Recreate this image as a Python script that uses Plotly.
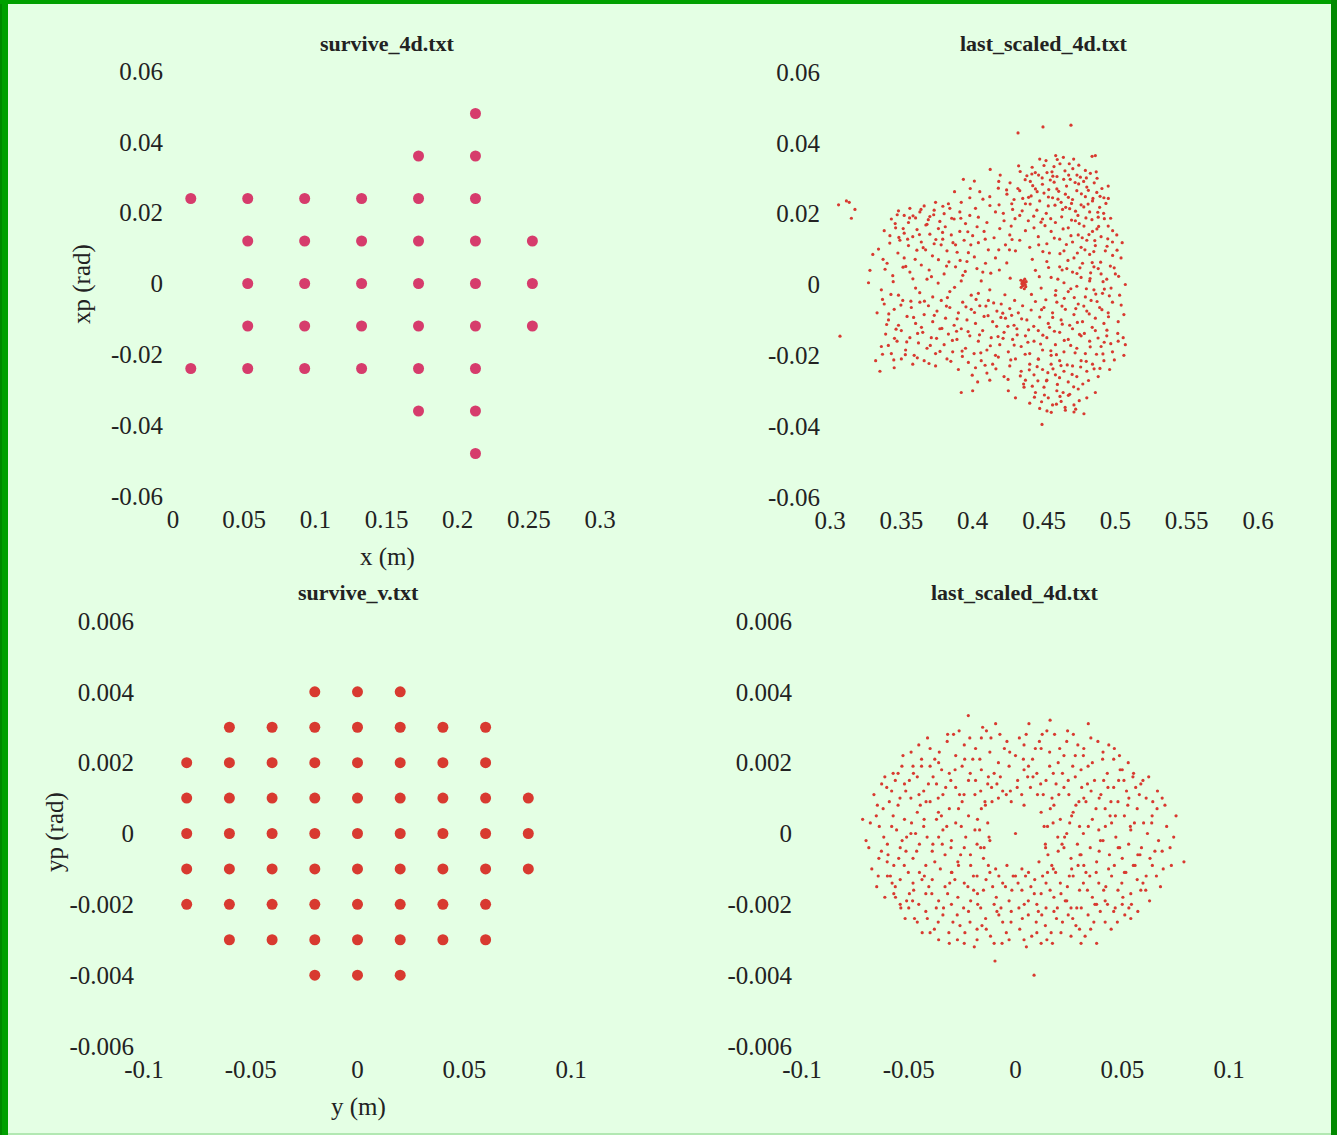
import plotly.graph_objects as go

# ---------------- data ----------------
# survive_4d.txt  (x [m], xp [rad])
s4_x = [0.0125, 0.0125,
        0.0525, 0.0525, 0.0525, 0.0525, 0.0525,
        0.0925, 0.0925, 0.0925, 0.0925, 0.0925,
        0.1325, 0.1325, 0.1325, 0.1325, 0.1325,
        0.1725, 0.1725, 0.1725, 0.1725, 0.1725, 0.1725, 0.1725,
        0.2125, 0.2125, 0.2125, 0.2125, 0.2125, 0.2125, 0.2125, 0.2125, 0.2125,
        0.2525, 0.2525, 0.2525]
s4_xp = [0.024, -0.024,
         0.024, 0.012, 0.0, -0.012, -0.024,
         0.024, 0.012, 0.0, -0.012, -0.024,
         0.024, 0.012, 0.0, -0.012, -0.024,
         0.036, 0.024, 0.012, 0.0, -0.012, -0.024, -0.036,
         0.048, 0.036, 0.024, 0.012, 0.0, -0.012, -0.024, -0.036, -0.048,
         0.012, 0.0, -0.012]

# survive_v.txt  (y [m], yp [rad])
sv_y = [-0.02, 0.0, 0.02,
        -0.06, -0.04, -0.02, 0.0, 0.02, 0.04, 0.06,
        -0.08, -0.06, -0.04, -0.02, 0.0, 0.02, 0.04, 0.06,
        -0.08, -0.06, -0.04, -0.02, 0.0, 0.02, 0.04, 0.06, 0.08,
        -0.08, -0.06, -0.04, -0.02, 0.0, 0.02, 0.04, 0.06, 0.08,
        -0.08, -0.06, -0.04, -0.02, 0.0, 0.02, 0.04, 0.06, 0.08,
        -0.08, -0.06, -0.04, -0.02, 0.0, 0.02, 0.04, 0.06,
        -0.06, -0.04, -0.02, 0.0, 0.02, 0.04, 0.06,
        -0.02, 0.0, 0.02]
sv_yp = [0.004] * 3 + [0.003] * 7 + [0.002] * 8 + [0.001] * 9 + [0.0] * 9 + \
        [-0.001] * 9 + [-0.002] * 8 + [-0.003] * 7 + [-0.004] * 3

# last_scaled_4d.txt, horizontal plane (x [m], xp [rad])
lh_pts = [
    (0.447, 0.0354), (0.4514, 0.035), (0.4582, 0.0364), (0.4636, 0.0359), (0.4708, 0.0354), (0.486, 0.0364),
    (0.457, 0.0333), (0.450, 0.0336), (0.4123, 0.0325), (0.4193, 0.0309), (0.4322, 0.0335), (0.4333, 0.0319),
    (0.438, 0.0307), (0.4415, 0.0312), (0.4439, 0.0316), (0.4462, 0.0309), (0.4521, 0.0316), (0.4544, 0.0295),
    (0.4591, 0.0305), (0.4638, 0.0297), (0.4673, 0.0309), (0.4684, 0.0297), (0.4731, 0.0309), (0.4755, 0.0303),
    (0.4778, 0.0291), (0.4825, 0.0314), (0.4872, 0.030), (0.479, 0.0322), (0.4404, 0.0291), (0.3935, 0.0297),
    (0.4318, 0.0428), (0.4493, 0.0445), (0.4689, 0.045), (0.4837, 0.0362),
    (0.405, 0.0262), (0.412, 0.0248), (0.418, 0.0272), (0.424, 0.0255), (0.429, 0.0240), (0.433, 0.0265),
    (0.437, 0.0228), (0.441, 0.0250), (0.444, 0.0270), (0.447, 0.0236), (0.450, 0.0258), (0.453, 0.0222),
    (0.456, 0.0245), (0.459, 0.0270), (0.462, 0.0232), (0.465, 0.0255), (0.468, 0.0214), (0.470, 0.0240),
    (0.473, 0.0265), (0.476, 0.0225), (0.479, 0.0248), (0.482, 0.0205), (0.484, 0.0236), (0.487, 0.0260),
    (0.489, 0.0218), (0.492, 0.0245), (0.495, 0.0278), (0.480, 0.0275), (0.463, 0.0212), (0.445, 0.0210),
    (0.428, 0.0212), (0.4185, 0.0225), (0.398, 0.0245), (0.392, 0.0232), (0.402, 0.0215),
    (0.348, 0.0208), (0.352, 0.0195), (0.356, 0.0215), (0.360, 0.0188), (0.363, 0.0205), (0.366, 0.0222),
    (0.370, 0.0192), (0.373, 0.0210), (0.377, 0.0178), (0.380, 0.0200), (0.384, 0.0215), (0.387, 0.0185),
    (0.391, 0.0205), (0.395, 0.0172), (0.398, 0.0195), (0.355, 0.0175), (0.368, 0.0170), (0.343, 0.0185),
    (0.383, 0.0228), (0.374, 0.0232),
    (0.306, 0.0225), (0.3115, 0.0236), (0.3135, 0.0232), (0.3175, 0.0212), (0.3150, 0.0187), (0.3070, -0.0146),
    (0.404, 0.0190), (0.410, 0.0175), (0.416, 0.0205), (0.422, 0.0180), (0.427, 0.0165), (0.433, 0.0195),
    (0.439, 0.0180),
    (0.338, 0.0152), (0.342, 0.0138), (0.346, 0.0160), (0.349, 0.0125), (0.352, 0.0145), (0.355, 0.0110),
    (0.358, 0.0135), (0.361, 0.0155), (0.364, 0.0120), (0.367, 0.0098), (0.370, 0.0142), (0.373, 0.0115),
    (0.376, 0.0158), (0.379, 0.0128), (0.382, 0.0095), (0.385, 0.0140), (0.388, 0.0112), (0.391, 0.0150),
    (0.394, 0.0125), (0.397, 0.0090), (0.400, 0.0138), (0.334, 0.0100), (0.330, 0.0085),
    (0.404, 0.0118), (0.408, 0.0150), (0.411, 0.0098), (0.415, 0.0132), (0.419, 0.0158), (0.423, 0.0112),
    (0.426, 0.0140), (0.430, 0.0095), (0.433, 0.0125), (0.437, 0.0152), (0.440, 0.0105),
    (0.443, 0.0160), (0.446, 0.0135), (0.449, 0.0185), (0.452, 0.0115), (0.455, 0.0150), (0.458, 0.0175),
    (0.461, 0.0128), (0.464, 0.0095), (0.467, 0.0160), (0.470, 0.0120), (0.472, 0.0180), (0.474, 0.0140),
    (0.476, 0.0105), (0.478, 0.0165), (0.480, 0.0125), (0.482, 0.0085), (0.484, 0.0150), (0.486, 0.0110),
    (0.488, 0.0190), (0.490, 0.0135), (0.493, 0.0095), (0.495, 0.0165), (0.498, 0.0120), (0.501, 0.0140),
    (0.504, 0.0075), (0.471, 0.0075), (0.477, 0.0060), (0.466, 0.0045), (0.485, 0.0050), (0.490, 0.0030),
    (0.328, 0.0040), (0.327, 0.0005), (0.336, -0.0015), (0.340, 0.0060), (0.344, 0.0025), (0.348, -0.0030),
    (0.352, 0.0075), (0.356, 0.0035), (0.360, -0.0010), (0.364, 0.0055), (0.368, 0.0015), (0.372, -0.0035),
    (0.376, 0.0070), (0.380, 0.0030), (0.384, -0.0020), (0.388, 0.0050), (0.392, 0.0010), (0.396, 0.0065),
    (0.399, -0.0030),
    (0.403, 0.0045), (0.406, 0.0010), (0.409, 0.0060), (0.404, -0.0025), (0.412, -0.0015), (0.416, 0.0075),
    (0.4345, 0.0002), (0.4352, -0.0003), (0.4360, 0.0004), (0.4368, 0.0000), (0.4356, 0.0010), (0.4340, -0.0008),
    (0.4372, -0.0006), (0.4362, -0.0012), (0.4348, 0.0006), (0.4375, 0.0008), (0.4338, 0.0012), (0.4365, 0.0015),
    (0.444, 0.0040), (0.448, -0.0010), (0.452, 0.0065), (0.455, 0.0020), (0.458, -0.0030), (0.461, 0.0050),
    (0.464, 0.0005), (0.467, -0.0020), (0.470, 0.0035), (0.473, -0.0005), (0.476, 0.0020), (0.479, -0.0035),
    (0.482, 0.0010), (0.485, -0.0015), (0.488, 0.0045), (0.491, -0.0025), (0.494, 0.0015), (0.497, -0.0010),
    (0.500, 0.0030), (0.503, -0.0030), (0.507, 0.0000),
    (0.333, -0.0080), (0.338, -0.0055), (0.341, -0.0100), (0.345, -0.0070), (0.348, -0.0115), (0.351, -0.0045),
    (0.354, -0.0090), (0.357, -0.0065), (0.360, -0.0110), (0.363, -0.0050), (0.366, -0.0085), (0.369, -0.0060),
    (0.372, -0.0105), (0.375, -0.0075), (0.378, -0.0045), (0.381, -0.0095), (0.384, -0.0065), (0.387, -0.0115),
    (0.390, -0.0080), (0.393, -0.0050), (0.396, -0.0100), (0.399, -0.0070),
    (0.402, -0.0110), (0.405, -0.0060), (0.408, -0.0090), (0.411, -0.0045), (0.414, -0.0105), (0.417, -0.0075),
    (0.420, -0.0055), (0.423, -0.0095), (0.426, -0.0068), (0.429, -0.0115), (0.432, -0.0080), (0.435, -0.0060),
    (0.438, -0.0100), (0.441, -0.0072), (0.444, -0.0048), (0.447, -0.0092),
    (0.450, -0.0065), (0.453, -0.0110), (0.456, -0.0080), (0.459, -0.0050), (0.462, -0.0100), (0.465, -0.0070),
    (0.468, -0.0115), (0.471, -0.0085), (0.474, -0.0055), (0.477, -0.0105), (0.480, -0.0075), (0.483, -0.0045),
    (0.486, -0.0095), (0.489, -0.0065), (0.492, -0.0110), (0.495, -0.0080), (0.498, -0.0050), (0.502, -0.0105),
    (0.506, -0.0085),
    (0.336, -0.0175), (0.339, -0.0140), (0.343, -0.0195), (0.347, -0.0160), (0.350, -0.0130), (0.353, -0.0185),
    (0.356, -0.0150), (0.359, -0.0200), (0.362, -0.0165), (0.365, -0.0135), (0.368, -0.0180), (0.371, -0.0150),
    (0.374, -0.0195), (0.377, -0.0125), (0.380, -0.0170), (0.383, -0.0140), (0.386, -0.0190), (0.389, -0.0155),
    (0.392, -0.0125), (0.395, -0.0180), (0.398, -0.0145),
    (0.401, -0.0195), (0.404, -0.0160), (0.407, -0.0130), (0.410, -0.0185), (0.413, -0.0150), (0.416, -0.0200),
    (0.419, -0.0170), (0.422, -0.0135), (0.425, -0.0190), (0.428, -0.0155), (0.431, -0.0125), (0.434, -0.0175),
    (0.437, -0.0145), (0.440, -0.0195), (0.443, -0.0160), (0.446, -0.0130), (0.449, -0.0185), (0.452, -0.0150),
    (0.455, -0.0200), (0.458, -0.0170), (0.461, -0.0135), (0.464, -0.0190), (0.467, -0.0155), (0.470, -0.0125),
    (0.473, -0.0180), (0.476, -0.0145), (0.479, -0.0195), (0.482, -0.0160), (0.486, -0.0130), (0.490, -0.0175),
    (0.494, -0.0145), (0.498, -0.0190), (0.502, -0.0160), (0.507, -0.0170), (0.506, -0.0200), (0.5055, -0.0150),
    (0.332, -0.0215), (0.335, -0.0245), (0.345, -0.0235), (0.350, -0.0210), (0.358, -0.0225), (0.366, -0.0215),
    (0.374, -0.0230), (0.382, -0.0210), (0.390, -0.0240), (0.397, -0.0220),
    (0.402, -0.0235), (0.406, -0.0215), (0.410, -0.0250), (0.414, -0.0225), (0.418, -0.0205), (0.422, -0.0260),
    (0.426, -0.0230), (0.430, -0.0210), (0.434, -0.0245), (0.437, -0.0270), (0.440, -0.0225), (0.443, -0.0255),
    (0.446, -0.0210), (0.449, -0.0240), (0.452, -0.0270), (0.455, -0.0225), (0.458, -0.0255), (0.461, -0.0215),
    (0.464, -0.0245), (0.467, -0.0275), (0.470, -0.0230), (0.473, -0.0260), (0.476, -0.0215), (0.480, -0.0245),
    (0.484, -0.0225), (0.488, -0.0260), (0.492, -0.0215), (0.496, -0.0240), (0.4035, -0.0275), (0.412, -0.0270),
    (0.392, -0.0305), (0.400, -0.0300), (0.425, -0.0300), (0.430, -0.0320), (0.436, -0.0290), (0.440, -0.0335),
    (0.444, -0.0305), (0.447, -0.0350), (0.450, -0.0290), (0.453, -0.0320), (0.456, -0.0340), (0.459, -0.0300),
    (0.462, -0.0330), (0.465, -0.0355), (0.468, -0.0310), (0.471, -0.0340), (0.474, -0.0295), (0.478, -0.0365),
    (0.480, -0.0320), (0.486, -0.0305), (0.4486, -0.0395), (0.471, -0.0360),
    # second, finer reading of the same cloud
    (0.4262, 0.0287), (0.4317, 0.0271), (0.4368, 0.0296), (0.4421, 0.0279), (0.4487, 0.0301), (0.4533, 0.0268),
    (0.4571, 0.0289), (0.4612, 0.0341), (0.4658, 0.0278), (0.4702, 0.0327), (0.4743, 0.0284), (0.4811, 0.0266),
    (0.4852, 0.0287), (0.4893, 0.0249), (0.4934, 0.0229), (0.4417, 0.0331), (0.4556, 0.0318), (0.4677, 0.0341),
    (0.4744, 0.0337), (0.4593, 0.0353),
    (0.4215, 0.0201), (0.4274, 0.0228), (0.4347, 0.0208), (0.4392, 0.0246), (0.4428, 0.0193), (0.4516, 0.0201),
    (0.4577, 0.0224), (0.4624, 0.0191), (0.4693, 0.0229), (0.4738, 0.0195), (0.4779, 0.0219), (0.4836, 0.0183),
    (0.4918, 0.0201), (0.4967, 0.0187), (0.4981, 0.0152), (0.4883, 0.0164), (0.4815, 0.0141), (0.4747, 0.0172),
    (0.4689, 0.0138), (0.4634, 0.0157), (0.4572, 0.0131), (0.4507, 0.0166), (0.4463, 0.0112), (0.4787, 0.0098),
    (0.4856, 0.0124), (0.4942, 0.0108), (0.5012, 0.0097), (0.4965, 0.0052), (0.4827, 0.0033), (0.4734, 0.0089),
    (0.3457, 0.0172), (0.3513, 0.0158), (0.3582, 0.0194), (0.3627, 0.0141), (0.3689, 0.0183), (0.3742, 0.0127),
    (0.3808, 0.0163), (0.3862, 0.0118), (0.3917, 0.0187), (0.3966, 0.0149), (0.4031, 0.0163), (0.4088, 0.0128),
    (0.3419, 0.0117), (0.3476, 0.0089), (0.3544, 0.0128), (0.3597, 0.0071), (0.3653, 0.0104), (0.3718, 0.0081),
    (0.3779, 0.0112), (0.3834, 0.0064), (0.3891, 0.0091), (0.3948, 0.0037), (0.4012, 0.0078), (0.4071, 0.0035),
    (0.3386, 0.0043), (0.3443, 0.0008), (0.3512, 0.0049), (0.3581, 0.0016), (0.3629, -0.0023), (0.3695, 0.0041),
    (0.3758, 0.0004), (0.3817, 0.0052), (0.3873, -0.0008), (0.3931, 0.0026), (0.4127, 0.0032), (0.4183, 0.0098),
    (0.4239, 0.0061), (0.4276, 0.0127),
    (0.4418, 0.0071), (0.4467, 0.0022), (0.4513, -0.0043), (0.4538, 0.0089), (0.4597, 0.0015), (0.4626, -0.0061),
    (0.4668, 0.0068), (0.4712, -0.0037), (0.4752, 0.0047), (0.4797, -0.0012), (0.4838, 0.0062), (0.4872, -0.0048),
    (0.4914, 0.0008), (0.4958, -0.0032), (0.4992, 0.0047), (0.5041, -0.0058), (0.4483, -0.0071), (0.4561, -0.0093),
    (0.4642, -0.0039), (0.4723, -0.0068), (0.4817, -0.0083), (0.4906, -0.0071),
    (0.3368, -0.0042), (0.3412, -0.0083), (0.3463, -0.0126), (0.3497, -0.0058), (0.3538, -0.0162), (0.3586, -0.0093),
    (0.3614, -0.0138), (0.3662, -0.0047), (0.3703, -0.0172), (0.3731, -0.0087), (0.3784, -0.0124), (0.3816, -0.0061),
    (0.3858, -0.0158), (0.3891, -0.0097), (0.3926, -0.0188), (0.3968, -0.0133), (0.4013, -0.0079), (0.4048, -0.0142),
    (0.4093, -0.0061), (0.4124, -0.0173), (0.4168, -0.0118), (0.4198, -0.0093), (0.3447, -0.0213), (0.3528, -0.0198),
    (0.3612, -0.0207), (0.3694, -0.0223), (0.3771, -0.0189), (0.3847, -0.0217), (0.3928, -0.0203), (0.3409, -0.0172),
    (0.4213, -0.0152), (0.4267, -0.0213), (0.4291, -0.0171), (0.4334, -0.0258), (0.4368, -0.0197), (0.4392, -0.0128),
    (0.4418, -0.0287), (0.4452, -0.0232), (0.4476, -0.0168), (0.4503, -0.0312), (0.4527, -0.0249), (0.4548, -0.0187),
    (0.4573, -0.0132), (0.4594, -0.0282), (0.4619, -0.0229), (0.4642, -0.0158), (0.4671, -0.0313), (0.4697, -0.0254),
    (0.4718, -0.0193), (0.4749, -0.0141), (0.4772, -0.0281), (0.4796, -0.0217), (0.4824, -0.0176), (0.4851, -0.0238),
    (0.4879, -0.0151), (0.4913, -0.0196), (0.4941, -0.0129), (0.4968, -0.0167), (0.4993, -0.0213), (0.4587, -0.0338),
    (0.4634, -0.0305), (0.4551, -0.0361), (0.4433, -0.0318), (0.4747, -0.0328),
    (0.4187, 0.0041), (0.4226, -0.0029), (0.4263, 0.0018), (0.4294, -0.0045), (0.4412, -0.0028), (0.4258, 0.0098),
    # third reading
    (0.4452, 0.0262), (0.4489, 0.0283), (0.4531, 0.0247), (0.4562, 0.0306), (0.4603, 0.0263), (0.4647, 0.0321),
    (0.4671, 0.0246), (0.4718, 0.0288), (0.4762, 0.0256), (0.4797, 0.0301), (0.4843, 0.0243), (0.4866, 0.0318),
    (0.4906, 0.0271), (0.4923, 0.0186), (0.4951, 0.0243), (0.4877, 0.0204), (0.4809, 0.0227), (0.4721, 0.0207),
    (0.4652, 0.0218), (0.4598, 0.0241), (0.4547, 0.0186), (0.4479, 0.0176), (0.4403, 0.0227), (0.4351, 0.0243),
    (0.4297, 0.0186), (0.4238, 0.0267), (0.4183, 0.0291), (0.4121, 0.0223), (0.4072, 0.0241), (0.3983, 0.0271),
    (0.4012, 0.0292), (0.3873, 0.0262),
    (0.4612, 0.0087), (0.4657, 0.0113), (0.4693, 0.0182), (0.4731, 0.0031), (0.4768, 0.0132), (0.4794, 0.0188),
    (0.4823, 0.0017), (0.4849, 0.0093), (0.4871, 0.0157), (0.4897, 0.0063), (0.4923, -0.0013), (0.4947, 0.0129),
    (0.4981, 0.0082), (0.5023, 0.0023), (0.5048, 0.0118), (0.4779, -0.0061), (0.4863, -0.0027), (0.4952, -0.0091),
    (0.5017, -0.0138), (0.4688, -0.0012), (0.4627, 0.0041), (0.4583, -0.0017), (0.4532, 0.0048), (0.4492, 0.0093),
    (0.3483, 0.0133), (0.3531, 0.0051), (0.3567, -0.0047), (0.3609, 0.0097), (0.3641, -0.0121), (0.3672, 0.0168),
    (0.3711, 0.0022), (0.3747, -0.0152), (0.3789, 0.0147), (0.3823, -0.0037), (0.3853, 0.0187), (0.3887, -0.0132),
    (0.3912, 0.0068), (0.3953, -0.0063), (0.3987, 0.0112), (0.4024, -0.0042), (0.4057, -0.0193), (0.4108, -0.0088),
    (0.4147, -0.0052), (0.4178, -0.0147), (0.4211, -0.0081), (0.4247, -0.0118), (0.3427, -0.0028), (0.3452, -0.0152),
    (0.3397, -0.0113), (0.3372, 0.0071), (0.3471, 0.0197), (0.3558, 0.0188), (0.3638, 0.0212), (0.3727, 0.0197),
    (0.3791, 0.0221), (0.3368, -0.0197),
    (0.4273, -0.0087), (0.4312, -0.0142), (0.4343, -0.0097), (0.4387, -0.0163), (0.4428, -0.0118), (0.4461, -0.0211),
    (0.4492, -0.0143), (0.4517, -0.0272), (0.4539, -0.0121), (0.4563, -0.0238), (0.4587, -0.0198), (0.4609, -0.0263),
    (0.4628, -0.0112), (0.4663, -0.0227), (0.4687, -0.0172), (0.4708, -0.0289), (0.4734, -0.0107), (0.4757, -0.0233),
    (0.4783, -0.0138), (0.4812, -0.0271), (0.4838, -0.0121), (0.4868, -0.0197), (0.4892, -0.0237), (0.4922, -0.0163),
    (0.4457, -0.0272), (0.4483, -0.0331), (0.4521, -0.0357), (0.4612, -0.0316), (0.4648, -0.0347), (0.4397, -0.0241),
    (0.4357, -0.0281), (0.4248, -0.0268), (0.4163, -0.0238), (0.4087, -0.0228), (0.3997, -0.0256), (0.4722, -0.0352),
]

# last_scaled_4d.txt, vertical plane (y [m], yp [rad])
lv_pts = [
    (-0.0221, 0.00333), (0.0162, 0.0032), (0.0063, 0.0031), (0.0341, 0.0031), (-0.0154, 0.0030),
    (-0.0093, 0.0031), (0.0244, 0.0029), (-0.0115, 0.0027), (0.0125, 0.0028), (-0.0290, 0.0028),
    (-0.044, 0.0021), (-0.040, 0.0024), (-0.036, 0.0020), (-0.032, 0.0026), (-0.028, 0.0022), (-0.024, 0.0025),
    (-0.020, 0.0021), (-0.016, 0.0027), (-0.012, 0.0023), (-0.008, 0.0020), (-0.004, 0.0026), (0.000, 0.0022),
    (0.004, 0.0025), (0.008, 0.0021), (0.012, 0.0024), (0.016, 0.0023), (0.020, 0.0020), (0.024, 0.0026),
    (0.028, 0.0022), (0.032, 0.0024), (0.036, 0.0020), (0.041, 0.0023), (0.046, 0.0021), (0.005, 0.0028),
    (-0.048, 0.0019), (0.050, 0.0018),
    (-0.058, 0.0012), (-0.055, 0.0017), (-0.052, 0.0014), (-0.049, 0.0010), (-0.046, 0.0016), (-0.043, 0.0012),
    (-0.040, 0.0019), (-0.037, 0.0014), (-0.034, 0.0011), (-0.031, 0.0017), (-0.028, 0.0013), (-0.025, 0.0019),
    (-0.022, 0.0015), (-0.019, 0.0011), (-0.016, 0.0018), (-0.013, 0.0014), (-0.010, 0.0017), (-0.006, 0.0012),
    (-0.003, 0.0019), (0.001, 0.0015), (0.004, 0.0018), (0.007, 0.0013), (0.010, 0.0017), (0.013, 0.0011),
    (0.016, 0.0019), (0.019, 0.0014), (0.022, 0.0017), (0.025, 0.0011), (0.028, 0.0016), (0.031, 0.0013),
    (0.034, 0.0019), (0.037, 0.0015), (0.040, 0.0011), (0.043, 0.0017), (0.046, 0.0013), (0.049, 0.0018),
    (0.052, 0.0012), (0.055, 0.0016), (0.058, 0.0011), (-0.044, 0.0019), (0.032, 0.0010), (-0.008, 0.0010),
    (-0.068, 0.0003), (-0.062, 0.0007), (-0.058, 0.0002), (-0.055, 0.0008), (-0.052, 0.0004), (-0.049, 0.0000),
    (-0.046, 0.0006), (-0.043, 0.0002), (-0.040, 0.0009), (-0.037, 0.0004), (-0.034, 0.0001), (-0.031, 0.0007),
    (-0.028, 0.0003), (-0.025, 0.0009), (-0.022, 0.0005), (-0.019, 0.0001), (-0.016, 0.0007), (-0.013, 0.0003),
    (-0.011, 0.0009), (0.012, 0.0006), (0.015, 0.0002), (0.018, 0.0008), (0.021, 0.0004), (0.024, 0.0000),
    (0.027, 0.0006), (0.030, 0.0002), (0.033, 0.0009), (0.036, 0.0004), (0.039, 0.0001), (0.042, 0.0007),
    (0.045, 0.0003), (0.048, 0.0009), (0.051, 0.0005), (0.054, 0.0001), (0.057, 0.0007), (0.060, 0.0003),
    (0.064, 0.0005), (0.070, 0.0008), (-0.002, 0.0009), (0.004, 0.0008),
    (0.000, 0.0000),
    (-0.070, -0.0002), (-0.064, -0.0007), (-0.060, -0.0003), (-0.057, -0.0009), (-0.054, -0.0004),
    (-0.051, -0.0001), (-0.048, -0.0007), (-0.045, -0.0003), (-0.042, -0.0009), (-0.039, -0.0005),
    (-0.036, -0.0001), (-0.033, -0.0006), (-0.030, -0.0002), (-0.027, -0.0008), (-0.024, -0.0004),
    (-0.021, -0.0009), (-0.018, -0.0003), (-0.015, -0.0007), (-0.012, -0.0002), (0.011, -0.0008),
    (0.014, -0.0003), (0.017, -0.0009), (0.020, -0.0005), (0.023, -0.0001), (0.026, -0.0007), (0.029, -0.0003),
    (0.032, -0.0009), (0.035, -0.0004), (0.038, -0.0008), (0.041, -0.0002), (0.044, -0.0006), (0.047, -0.0001),
    (0.050, -0.0007), (0.053, -0.0003), (0.056, -0.0009), (0.059, -0.0004), (0.063, -0.0007), (0.067, -0.0002),
    (0.073, -0.0009), (0.0789, -0.0008), (-0.004, -0.0009), (0.003, -0.0010),
    (-0.060, -0.0012), (-0.057, -0.0017), (-0.054, -0.0013), (-0.051, -0.0019), (-0.048, -0.0014),
    (-0.045, -0.0011), (-0.042, -0.0017), (-0.039, -0.0013), (-0.036, -0.0019), (-0.033, -0.0015),
    (-0.030, -0.0011), (-0.027, -0.0018), (-0.024, -0.0014), (-0.021, -0.0019), (-0.018, -0.0012),
    (-0.015, -0.0016), (-0.012, -0.0011), (-0.009, -0.0018), (-0.006, -0.0014), (-0.003, -0.0019),
    (0.000, -0.0012), (0.003, -0.0016), (0.006, -0.0019), (0.009, -0.0013), (0.012, -0.0017), (0.015, -0.0011),
    (0.018, -0.0018), (0.021, -0.0014), (0.024, -0.0019), (0.027, -0.0012), (0.030, -0.0016), (0.033, -0.0011),
    (0.036, -0.0018), (0.039, -0.0014), (0.042, -0.0019), (0.045, -0.0012), (0.048, -0.0016), (0.051, -0.0011),
    (0.054, -0.0017), (0.057, -0.0013), (0.061, -0.0016), (0.066, -0.0012), (-0.065, -0.0015),
    (-0.050, -0.0021), (-0.046, -0.0025), (-0.042, -0.0022), (-0.038, -0.0027), (-0.034, -0.0023),
    (-0.030, -0.0020), (-0.026, -0.0026), (-0.022, -0.0022), (-0.018, -0.0027), (-0.014, -0.0024),
    (-0.010, -0.0020), (-0.006, -0.0025), (-0.002, -0.0022), (0.002, -0.0027), (0.006, -0.0023),
    (0.010, -0.0020), (0.014, -0.0026), (0.018, -0.0022), (0.022, -0.0025), (0.026, -0.0021), (0.030, -0.0027),
    (0.034, -0.0023), (0.038, -0.0020), (0.042, -0.0025), (0.046, -0.0022), (0.050, -0.0020), (0.054, -0.0024),
    (-0.054, -0.0020), (-0.040, -0.0028), (0.010, -0.0028),
    (-0.036, -0.0030), (-0.031, -0.0031), (-0.024, -0.0031), (-0.018, -0.0030), (-0.010, -0.0031),
    (-0.003, -0.0030), (0.004, -0.0030), (0.012, -0.0031), (0.026, -0.0029), (0.038, -0.0031),
    (-0.0096, -0.0036), (0.0087, -0.0040),
    # second, finer reading of the same cloud
    (-0.0412, 0.0027), (-0.0357, 0.0023), (-0.0264, 0.0029), (-0.0187, 0.0024), (-0.0136, 0.0029),
    (-0.0052, 0.0024), (0.0018, 0.0027), (0.0093, 0.0024), (0.0147, 0.0029), (0.0207, 0.0024), (0.0271, 0.0028),
    (0.0318, 0.0022), (0.0386, 0.0026), (0.0437, 0.0025), (-0.0489, 0.0023), (-0.0532, 0.0019), (0.0487, 0.0022),
    (0.0528, 0.0020), (-0.0238, 0.0021), (0.0061, 0.0019),
    (-0.0627, 0.0014), (-0.0591, 0.0009), (-0.0563, 0.0015), (-0.0514, 0.0012), (-0.0478, 0.0017),
    (-0.0419, 0.0009), (-0.0386, 0.0016), (-0.0327, 0.0013), (-0.0283, 0.0018), (-0.0241, 0.0011),
    (-0.0187, 0.0015), (-0.0143, 0.0009), (-0.0112, 0.0013), (-0.0071, 0.0016), (-0.0024, 0.0012),
    (0.0029, 0.0011), (0.0082, 0.0016), (0.0118, 0.0014), (0.0171, 0.0010), (0.0227, 0.0013), (0.0268, 0.0019),
    (0.0297, 0.0009), (0.0354, 0.0012), (0.0413, 0.0015), (0.0447, 0.0009), (0.0508, 0.0015), (0.0563, 0.0013),
    (0.0612, 0.0010), (0.0624, 0.0016), (0.0665, 0.0012), (-0.0663, 0.0011), (0.0177, 0.0017), (-0.0346, 0.0018),
    (-0.0652, 0.0005), (-0.0617, -0.0001), (-0.0573, 0.0005), (-0.0531, -0.0002), (-0.0487, 0.0003),
    (-0.0446, 0.0008), (-0.0414, -0.0001), (-0.0361, 0.0006), (-0.0322, 0.0002), (-0.0267, 0.0007),
    (-0.0233, -0.0001), (-0.0178, 0.0004), (-0.0141, 0.0008), (-0.0124, -0.0001), (0.0134, 0.0002),
    (0.0163, 0.0007), (0.0198, -0.0001), (0.0254, 0.0003), (0.0283, 0.0008), (0.0318, 0.0000), (0.0377, 0.0007),
    (0.0421, 0.0002), (0.0468, 0.0005), (0.0526, 0.0008), (0.0557, 0.0003), (0.0618, 0.0000), (0.0663, 0.0007),
    (0.0708, 0.0002), (-0.0716, 0.0004), (0.0752, 0.0005),
    (-0.0673, -0.0010), (-0.0628, -0.0005), (-0.0586, -0.0012), (-0.0547, -0.0007), (-0.0502, -0.0011),
    (-0.0463, -0.0005), (-0.0427, -0.0012), (-0.0378, -0.0008), (-0.0343, -0.0003), (-0.0298, -0.0011),
    (-0.0257, -0.0006), (-0.0197, -0.0012), (-0.0163, -0.0004), (-0.0127, -0.0009), (-0.0078, -0.0012),
    (-0.0011, -0.0012), (0.0061, -0.0011), (0.0127, -0.0012), (0.0152, -0.0006), (0.0188, -0.0011),
    (0.0227, -0.0004), (0.0263, -0.0010), (0.0307, -0.0006), (0.0348, -0.0012), (0.0392, -0.0005),
    (0.0436, -0.0010), (0.0481, -0.0004), (0.0517, -0.0011), (0.0573, -0.0006), (0.0612, -0.0012),
    (0.0653, -0.0005), (0.0692, -0.0010), (0.0724, -0.0004),
    (-0.0612, -0.0018), (-0.0578, -0.0014), (-0.0537, -0.0021), (-0.0497, -0.0017), (-0.0453, -0.0020),
    (-0.0406, -0.0015), (-0.0371, -0.0021), (-0.0318, -0.0017), (-0.0284, -0.0013), (-0.0243, -0.0021),
    (-0.0196, -0.0016), (-0.0163, -0.0021), (-0.0107, -0.0015), (-0.0068, -0.0021), (-0.0017, -0.0016),
    (0.0016, -0.0021), (0.0072, -0.0015), (0.0107, -0.0022), (0.0162, -0.0016), (0.0196, -0.0021),
    (0.0243, -0.0015), (0.0287, -0.0021), (0.0318, -0.0014), (0.0372, -0.0020), (0.0413, -0.0016),
    (0.0467, -0.0021), (0.0498, -0.0014), (0.0543, -0.0020), (0.0587, -0.0016), (0.0628, -0.0019),
    (0.0679, -0.0015),
    (-0.0473, -0.0024), (-0.0437, -0.0028), (-0.0362, -0.0025), (-0.0312, -0.0028), (-0.0273, -0.0023),
    (-0.0237, -0.0028), (-0.0157, -0.0026), (-0.0117, -0.0029), (-0.0078, -0.0023), (-0.0043, -0.0028),
    (0.0032, -0.0024), (0.0076, -0.0029), (0.0123, -0.0023), (0.0167, -0.0028), (0.0213, -0.0028),
    (0.0247, -0.0023), (0.0283, -0.0026), (0.0326, -0.0029), (0.0367, -0.0025), (0.0448, -0.0027),
    (0.0512, -0.0023), (0.0573, -0.0022), (-0.0193, -0.0032), (0.0173, -0.0031),
    # third reading
    (-0.0453, 0.0025), (-0.0378, 0.0021), (-0.0318, 0.0028), (-0.0214, 0.0027), (-0.0167, 0.0021),
    (-0.0073, 0.0028), (-0.0027, 0.0023), (0.0037, 0.0021), (0.0112, 0.0026), (0.0183, 0.0028), (0.0227, 0.0022),
    (0.0292, 0.0025), (0.0353, 0.0027), (0.0408, 0.0021), (0.0463, 0.0024), (-0.0573, 0.0017), (-0.0527, 0.0022),
    (0.0553, 0.0017), (0.0597, 0.0015), (-0.0612, 0.0016),
    (-0.0647, 0.0008), (-0.0603, 0.0013), (-0.0541, 0.0010), (-0.0497, 0.0015), (-0.0452, 0.0011),
    (-0.0408, 0.0014), (-0.0362, 0.0010), (-0.0303, 0.0015), (-0.0262, 0.0011), (-0.0212, 0.0017),
    (-0.0163, 0.0012), (-0.0127, 0.0016), (-0.0087, 0.0014), (-0.0043, 0.0011), (0.0008, 0.0013),
    (0.0057, 0.0016), (0.0103, 0.0011), (0.0143, 0.0015), (0.0203, 0.0011), (0.0247, 0.0015), (0.0307, 0.0018),
    (0.0337, 0.0014), (0.0392, 0.0010), (0.0433, 0.0013), (0.0483, 0.0015), (0.0531, 0.0010), (0.0587, 0.0014),
    (0.0643, 0.0009), (0.0687, 0.0010),
    (-0.0687, -0.0004), (-0.0638, 0.0002), (-0.0597, -0.0006), (-0.0557, 0.0001), (-0.0513, -0.0005),
    (-0.0468, 0.0000), (-0.0428, 0.0004), (-0.0387, -0.0003), (-0.0347, 0.0005), (-0.0302, -0.0004),
    (-0.0254, 0.0002), (-0.0211, -0.0006), (-0.0168, 0.0001), (-0.0147, -0.0004), (0.0141, -0.0004),
    (0.0176, 0.0003), (0.0218, -0.0003), (0.0263, 0.0005), (0.0302, -0.0006), (0.0341, 0.0002),
    (0.0398, -0.0002), (0.0443, 0.0005), (0.0488, -0.0004), (0.0538, 0.0002), (0.0583, -0.0006),
    (0.0638, 0.0003), (0.0687, -0.0005), (0.0741, -0.0001),
    (-0.0643, -0.0012), (-0.0601, -0.0008), (-0.0563, -0.0015), (-0.0521, -0.0009), (-0.0477, -0.0016),
    (-0.0438, -0.0013), (-0.0392, -0.0017), (-0.0352, -0.0010), (-0.0308, -0.0014), (-0.0267, -0.0009),
    (-0.0223, -0.0015), (-0.0178, -0.0017), (-0.0138, -0.0013), (-0.0093, -0.0010), (-0.0047, -0.0015),
    (0.0012, -0.0014), (0.0047, -0.0012), (0.0088, -0.0017), (0.0143, -0.0014), (0.0177, -0.0010),
    (0.0213, -0.0017), (0.0252, -0.0012), (0.0293, -0.0009), (0.0337, -0.0016), (0.0378, -0.0011),
    (0.0423, -0.0015), (0.0463, -0.0009), (0.0503, -0.0018), (0.0552, -0.0009), (0.0597, -0.0014),
    (0.0641, -0.0009),
    (-0.0562, -0.0018), (-0.0517, -0.0024), (-0.0482, -0.0019), (-0.0413, -0.0024), (-0.0337, -0.0021),
    (-0.0293, -0.0025), (-0.0213, -0.0025), (-0.0177, -0.0020), (-0.0137, -0.0027), (-0.0087, -0.0022),
    (-0.0021, -0.0025), (0.0041, -0.0020), (0.0097, -0.0025), (0.0143, -0.0021), (0.0192, -0.0024),
    (0.0233, -0.0019), (0.0268, -0.0024), (0.0308, -0.0021), (0.0352, -0.0027), (0.0397, -0.0022),
    (0.0431, -0.0020), (0.0477, -0.0025), (0.0531, -0.0021), (-0.0272, -0.0030), (-0.0063, -0.0031),
    (0.0051, -0.0032), (0.0147, -0.0030), (0.0307, -0.0031),
]

lh_x = [p[0] for p in lh_pts]
lh_xp = [p[1] for p in lh_pts]
lv_y = [p[0] for p in lv_pts]
lv_yp = [p[1] for p in lv_pts]

# tick labels
xp_ticks = [-0.06, -0.04, -0.02, 0, 0.02, 0.04, 0.06]
xp_text = ["-0.06", "-0.04", "-0.02", "0", "0.02", "0.04", "0.06"]
x1_ticks = [0, 0.05, 0.1, 0.15, 0.2, 0.25, 0.3]
x1_text = ["0", "0.05", "0.1", "0.15", "0.2", "0.25", "0.3"]
x2_ticks = [0.3, 0.35, 0.4, 0.45, 0.5, 0.55, 0.6]
x2_text = ["0.3", "0.35", "0.4", "0.45", "0.5", "0.55", "0.6"]
y_ticks = [-0.1, -0.05, 0, 0.05, 0.1]
y_text = ["-0.1", "-0.05", "0", "0.05", "0.1"]
yp_ticks = [-0.006, -0.004, -0.002, 0, 0.002, 0.004, 0.006]
yp_text = ["-0.006", "-0.004", "-0.002", "0", "0.002", "0.004", "0.006"]

# ---------------- figure ----------------
W, H = 1337, 1135
BG = "#e4ffe4"
TXT = "#222222"
FONT = "Liberation Serif"
PINK = "#d63c6c"
RED = "#d83a30"

fig = go.Figure()
fig.add_trace(go.Scatter(x=s4_x, y=s4_xp, mode="markers", xaxis="x", yaxis="y",
                         marker=dict(size=11, color=PINK), showlegend=False))
fig.add_trace(go.Scatter(x=lh_x, y=lh_xp, mode="markers", xaxis="x2", yaxis="y2",
                         marker=dict(size=3.2, color=RED), showlegend=False))
fig.add_trace(go.Scatter(x=sv_y, y=sv_yp, mode="markers", xaxis="x3", yaxis="y3",
                         marker=dict(size=11, color=RED), showlegend=False))
fig.add_trace(go.Scatter(x=lv_y, y=lv_yp, mode="markers", xaxis="x4", yaxis="y4",
                         marker=dict(size=3.2, color=RED), showlegend=False))


def px_x(p):
    return p / W


def px_y(p):
    return 1 - p / H


def ax(domain, anchor, rng, tv, tt, standoff):
    return dict(domain=domain, anchor=anchor, range=rng, tickvals=tv, ticktext=tt,
                showgrid=False, zeroline=False, showline=False, ticks="",
                automargin=False,
                tickfont=dict(family=FONT, size=25, color=TXT),
                ticklabelstandoff=standoff, fixedrange=True)


fig.update_layout(
    width=W, height=H,
    margin=dict(l=0, r=0, t=0, b=0, pad=0, autoexpand=False),
    paper_bgcolor=BG, plot_bgcolor=BG,
    font=dict(family=FONT, color=TXT),
    xaxis=ax([px_x(173), px_x(600)], "y", [0, 0.3], x1_ticks, x1_text, 6),
    yaxis=ax([px_y(496), px_y(71)], "x", [-0.06, 0.06], xp_ticks, xp_text, 9),
    xaxis2=ax([px_x(830), px_x(1258)], "y2", [0.3, 0.6], x2_ticks, x2_text, 6),
    yaxis2=ax([px_y(497), px_y(72)], "x2", [-0.06, 0.06], xp_ticks, xp_text, 9),
    xaxis3=ax([px_x(144), px_x(571)], "y3", [-0.1, 0.1], y_ticks, y_text, 6),
    yaxis3=ax([px_y(1046), px_y(621)], "x3", [-0.006, 0.006], yp_ticks, yp_text, 9),
    xaxis4=ax([px_x(802), px_x(1229)], "y4", [-0.1, 0.1], y_ticks, y_text, 6),
    yaxis4=ax([px_y(1046), px_y(621)], "x4", [-0.006, 0.006], yp_ticks, yp_text, 9),
)

annotations = [
    dict(text="<b>survive_4d.txt</b>", x=px_x(387), y=px_y(43), size=22),
    dict(text="<b>last_scaled_4d.txt</b>", x=px_x(1044), y=px_y(43), size=22),
    dict(text="<b>survive_v.txt</b>", x=px_x(358), y=px_y(592), size=22),
    dict(text="<b>last_scaled_4d.txt</b>", x=px_x(1015), y=px_y(592), size=22),
    dict(text="x (m)", x=px_x(387), y=px_y(557), size=25),
    dict(text="y (m)", x=px_x(358), y=px_y(1107), size=25),
    dict(text="xp (rad)", x=px_x(82), y=px_y(284), size=25, textangle=-90),
    dict(text="yp (rad)", x=px_x(55), y=px_y(832), size=25, textangle=-90),
]
for a in annotations:
    fig.add_annotation(text=a["text"], x=a["x"], y=a["y"], xref="paper", yref="paper",
                       xanchor="center", yanchor="middle", showarrow=False,
                       textangle=a.get("textangle", 0),
                       font=dict(family=FONT, size=a["size"], color=TXT))

# green frame around the page
frame = [
    (0, 0, 8, H, "#00a000"),
    (0, 0, 2, H, "#008800"),
    (0, 0, W, 4, "#00a000"),
    (W - 6, 0, W, H, "#008a00"),
    (8, H - 2, W - 6, H, "#b2e8b2"),
]
for x0, y0, x1, y1, c in frame:
    fig.add_shape(type="rect", xref="paper", yref="paper",
                  x0=px_x(x0), x1=px_x(x1), y0=px_y(y1), y1=px_y(y0),
                  fillcolor=c, line=dict(width=0), layer="above")

fig.write_html("out.html")
